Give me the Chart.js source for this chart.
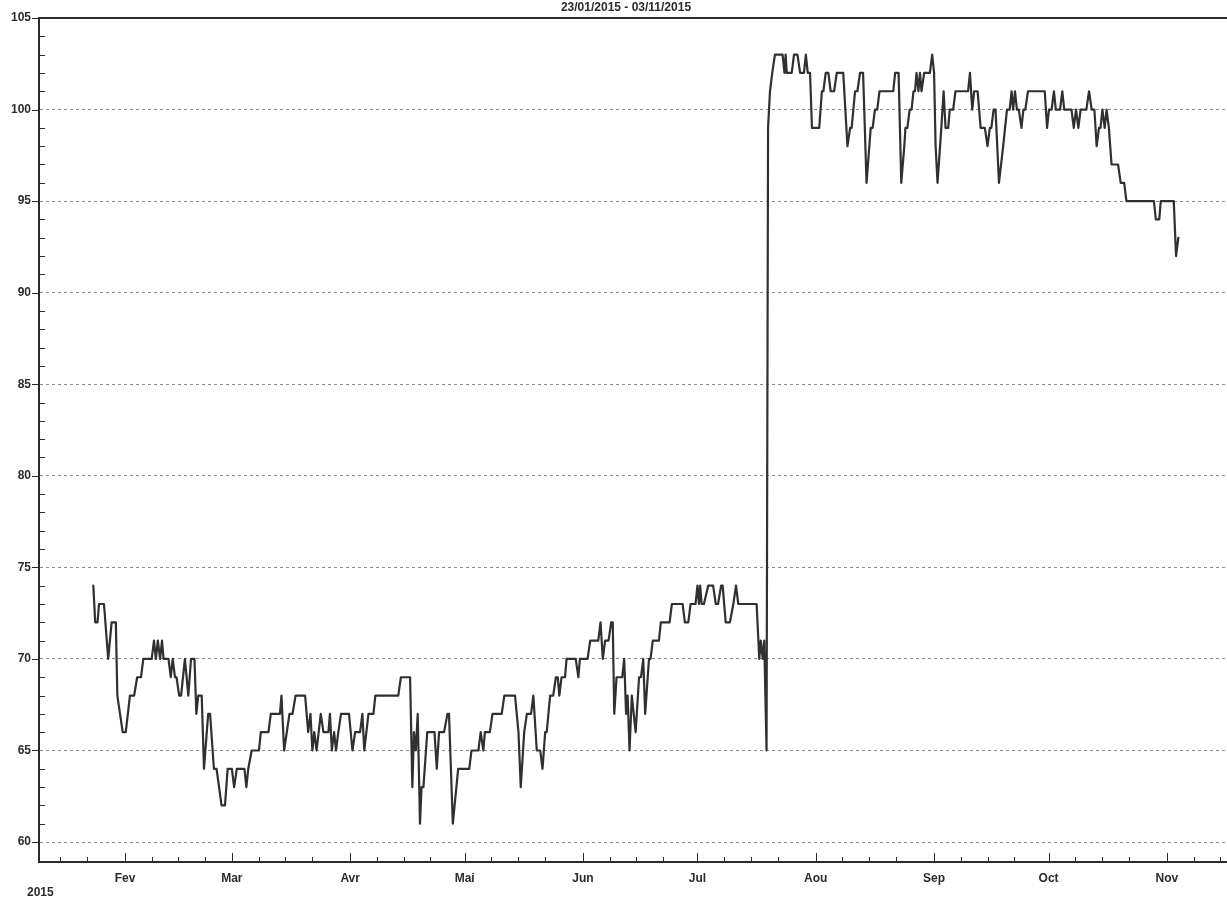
<!DOCTYPE html>
<html>
<head>
<meta charset="utf-8">
<script src="https://cdn.jsdelivr.net/npm/chart.js@4.4.0/dist/chart.umd.min.js"></script>
<style>
  html, body { margin: 0; padding: 0; background: #fff; overflow: hidden; }
  #wrap { width: 1252px; height: 899px; }
</style>
</head>
<body>
<div id="wrap"><canvas id="levelChart" width="1252" height="899"></canvas></div>
<script>
// day of year 2015 (1 = 1 Jan) and reading at that point
const days = [
  23.7, 24.2, 24.8, 25.2, 26.5, 27.6, 28.5, 29.6, 30.0, 31.4, 32.2, 33.3, 34.4, 35.2, 36.2, 36.8,
  39.0, 39.6, 40.1, 40.6, 41.2, 41.7, 42.1, 43.4, 44.0, 44.5, 45.1, 45.5, 46.2, 46.7, 47.7, 48.6,
  49.3, 50.2, 50.7, 51.2, 52.1, 52.7, 53.8, 54.3, 55.3, 56.0, 57.3, 58.2, 58.9, 60.0, 60.6, 61.3,
  63.3, 63.8, 64.3, 65.2, 67.1, 67.6, 69.6, 70.2, 72.6, 73.0, 73.7, 74.4, 75.1, 75.9, 76.7, 79.2,
  80.0, 80.6, 81.1, 81.6, 82.2, 83.3, 84.0, 85.3, 85.7, 86.2, 86.8, 87.3, 87.9, 88.6, 90.7, 91.6,
  92.3, 93.6, 94.2, 94.7, 95.8, 97.1, 97.6, 103.6, 104.3, 106.7, 107.3, 107.7, 108.2, 108.7, 109.3, 109.7,
  110.2, 111.2, 113.1, 113.7, 114.3, 115.6, 116.5, 116.9, 117.9, 119.3, 122.2, 122.8, 124.6, 125.2, 125.9, 126.3,
  127.6, 128.3, 130.7, 131.4, 134.2, 135.1, 135.7, 136.6, 137.3, 138.4, 139.0, 139.9, 140.8, 141.4, 142.1, 142.5,
  143.4, 144.2, 144.9, 145.4, 145.8, 146.4, 147.3, 147.7, 150.1, 150.8, 151.2, 153.2, 153.9, 156.0, 156.6, 157.2,
  157.8, 158.7, 159.4, 159.8, 160.2, 160.8, 162.3, 162.8, 163.3, 163.7, 164.2, 164.8, 165.8, 166.7, 167.2, 167.8,
  168.3, 169.3, 169.7, 170.3, 171.9, 172.4, 174.7, 175.3, 178.1, 178.7, 179.6, 180.2, 181.5, 182.0, 182.4, 182.7,
  183.1, 183.7, 184.8, 186.1, 186.8, 187.4, 188.2, 188.6, 189.4, 190.5, 191.4, 192.1, 192.7, 197.5, 198.2, 198.6,
  199.1, 199.5, 200.1, 200.5, 201.0, 201.6, 202.3, 204.3, 204.8, 205.1, 205.4, 206.7, 207.3, 208.2, 208.9, 209.9,
  210.4, 210.9, 211.5, 212.0, 213.9, 214.6, 215.0, 215.6, 216.3, 216.9, 217.8, 218.5, 220.2, 221.3, 222.0, 222.4,
  223.3, 223.9, 224.6, 225.4, 226.3, 227.4, 227.9, 228.5, 229.1, 229.7, 233.3, 233.8, 234.7, 235.4, 236.2, 236.5,
  237.0, 237.6, 238.1, 238.6, 239.0, 239.4, 239.9, 240.3, 240.7, 241.4, 242.9, 243.5, 244.0, 244.4, 244.9, 245.9,
  246.5, 247.0, 247.7, 248.1, 249.0, 249.6, 252.9, 253.4, 254.0, 254.5, 255.4, 256.2, 257.3, 258.0, 258.6, 259.0,
  259.6, 260.1, 261.0, 262.1, 263.1, 263.8, 264.3, 264.7, 265.2, 265.7, 266.2, 266.9, 267.4, 267.9, 268.6, 273.0,
  273.6, 274.1, 274.8, 275.4, 275.9, 277.0, 277.6, 278.1, 280.0, 280.6, 281.2, 281.8, 282.4, 283.9, 284.6, 285.3,
  286.0, 286.6, 287.2, 287.6, 288.1, 288.7, 289.2, 289.8, 290.5, 292.2, 292.9, 293.8, 294.4, 301.6, 302.1, 303.0,
  303.4, 306.8, 307.4, 308.0
];
const values = [
  74, 72, 72, 73, 73, 70, 72, 72, 68, 66, 66, 68, 68, 69, 69, 70,
  70, 71, 70, 71, 70, 71, 70, 70, 69, 70, 69, 69, 68, 68, 70, 68,
  70, 70, 67, 68, 68, 64, 67, 67, 64, 64, 62, 62, 64, 64, 63, 64,
  64, 63, 64, 65, 65, 66, 66, 67, 67, 68, 65, 66, 67, 67, 68, 68,
  66, 67, 65, 66, 65, 67, 66, 66, 67, 65, 66, 65, 66, 67, 67, 65,
  66, 66, 67, 65, 67, 67, 68, 68, 69, 69, 63, 66, 65, 67, 61, 63,
  63, 66, 66, 64, 66, 66, 67, 67, 61, 64, 64, 65, 65, 66, 65, 66,
  66, 67, 67, 68, 68, 66, 63, 66, 67, 67, 68, 65, 65, 64, 66, 66,
  68, 68, 69, 69, 68, 69, 69, 70, 70, 69, 70, 70, 71, 71, 72, 70,
  71, 71, 72, 72, 67, 69, 69, 70, 67, 68, 65, 68, 66, 69, 69, 70,
  67, 70, 70, 71, 71, 72, 72, 73, 73, 72, 72, 73, 73, 74, 73, 74,
  73, 73, 74, 74, 73, 73, 74, 74, 72, 72, 73, 74, 73, 73, 70, 71,
  70, 71, 65, 99, 101, 102, 103, 103, 102, 103, 102, 102, 103, 103, 102, 102,
  103, 102, 102, 99, 99, 101, 101, 102, 102, 101, 101, 102, 102, 98, 99, 99,
  101, 101, 102, 102, 96, 99, 99, 100, 100, 101, 101, 102, 102, 96, 98, 99,
  99, 100, 100, 101, 101, 102, 101, 102, 101, 102, 102, 103, 102, 98, 96, 99,
  101, 99, 99, 100, 100, 101, 101, 102, 100, 101, 101, 99, 99, 98, 99, 99,
  100, 100, 96, 98, 100, 100, 101, 100, 101, 100, 100, 99, 100, 100, 101, 101,
  99, 100, 100, 101, 100, 100, 101, 100, 100, 99, 100, 99, 100, 100, 101, 100,
  100, 98, 99, 99, 100, 99, 100, 99, 97, 97, 96, 96, 95, 95, 94, 94,
  95, 95, 92, 93
];

// first day of each month shown on the time axis
const monthDays = [32, 60, 91, 121, 152, 182, 213, 244, 274, 305];
const monthLabels = ["Fev", "Mar", "Avr", "Mai", "Jun", "Jul", "Aou", "Sep", "Oct", "Nov"];
const yearLabel = "2015";
const titleText = "23/01/2015 - 03/11/2015";

const X_MIN = 9.47, X_MAX = 327.3;
const Y_MIN = 58.91, Y_MAX = 105;
const INK = "#2b2b2b";
const FONT = "'Liberation Sans', Arial, sans-serif";

// weekly minor marks (8th, 15th, 22nd of each month)
const weekMarks = [];
[1].concat(monthDays).forEach(function (m) {
  [7, 14, 21].forEach(function (o) { weekMarks.push(m + o); });
});

const frameTicks = {
  id: "frameTicks",
  afterDraw(chart) {
    const ctx = chart.ctx;
    const a = chart.chartArea;
    const xs = chart.scales.x, ys = chart.scales.y;
    ctx.save();
    ctx.strokeStyle = INK;
    // top frame line
    ctx.lineWidth = 2;
    ctx.beginPath();
    ctx.moveTo(a.left - 1, a.top);
    ctx.lineTo(a.right, a.top);
    ctx.stroke();
    ctx.lineWidth = 1;
    ctx.beginPath();
    // y ticks: major outside, minor inside
    for (let v = 60; v <= Y_MAX; v++) {
      const y = Math.round(ys.getPixelForValue(v)) + 0.5;
      if (v % 5 === 0) {
        ctx.moveTo(a.left - 7, y);
        ctx.lineTo(a.left, y);
      } else {
        ctx.moveTo(a.left, y);
        ctx.lineTo(a.left + 6, y);
      }
    }
    // x ticks inside the plot
    monthDays.forEach(function (d) {
      const x = Math.round(xs.getPixelForValue(d)) + 0.5;
      ctx.moveTo(x, a.bottom);
      ctx.lineTo(x, a.bottom - 9);
    });
    weekMarks.forEach(function (d) {
      if (d < X_MIN || d > X_MAX) return;
      const x = Math.round(xs.getPixelForValue(d)) + 0.5;
      ctx.moveTo(x, a.bottom);
      ctx.lineTo(x, a.bottom - 5);
    });
    ctx.stroke();
    ctx.fillStyle = INK;
    ctx.font = "bold 12px " + FONT;
    ctx.textAlign = "left";
    ctx.textBaseline = "middle";
    ctx.fillText(yearLabel, 27, 893);
    ctx.restore();
  }
};

const ctx = document.getElementById("levelChart").getContext("2d");
const levelChart = new Chart(ctx, {
  type: "line",
  data: {
    datasets: [
      {
        label: "Niveau",
        data: days.map(function (d, i) { return { x: d, y: values[i] }; }),
        borderColor: "#303030",
        borderWidth: 2.2,
        borderJoinStyle: "round",
        borderCapStyle: "round",
        pointRadius: 0,
        tension: 0,
        fill: false,
      },
    ],
  },
  options: {
    responsive: false,
    animation: false,
    layout: { padding: { left: 0, right: 0, top: 0, bottom: 0 } },
    plugins: {
      legend: { display: false },
      tooltip: { enabled: false },
      title: {
        display: true,
        text: titleText,
        color: INK,
        font: { family: FONT, size: 12, weight: "bold", lineHeight: 1.2 },
        padding: { top: 0, bottom: 3.6 },
      },
    },
    scales: {
      x: {
        type: "linear",
        min: X_MIN,
        max: X_MAX,
        afterBuildTicks: function (scale) {
          scale.ticks = monthDays.map(function (d) { return { value: d }; });
        },
        afterFit: function (scale) { scale.height = 37; },
        ticks: {
          autoSkip: false,
          maxRotation: 0,
          padding: 9,
          color: INK,
          font: { family: FONT, size: 12, weight: "bold" },
          callback: function (value) {
            const i = monthDays.indexOf(value);
            return i >= 0 ? monthLabels[i] : "";
          },
        },
        grid: { display: false, drawTicks: false },
        border: { display: true, color: INK, width: 2 },
      },
      y: {
        min: Y_MIN,
        max: Y_MAX,
        afterFit: function (scale) { scale.width = 39; },
        ticks: {
          stepSize: 5,
          includeBounds: false,
          padding: 8,
          color: INK,
          font: { family: FONT, size: 12, weight: "bold" },
        },
        grid: { color: "#8a8a8a", lineWidth: 1, drawTicks: false },
        border: { display: true, color: INK, width: 2, dash: [3, 3] },
      },
    },
  },
  plugins: [frameTicks],
});
</script>
</body>
</html>
